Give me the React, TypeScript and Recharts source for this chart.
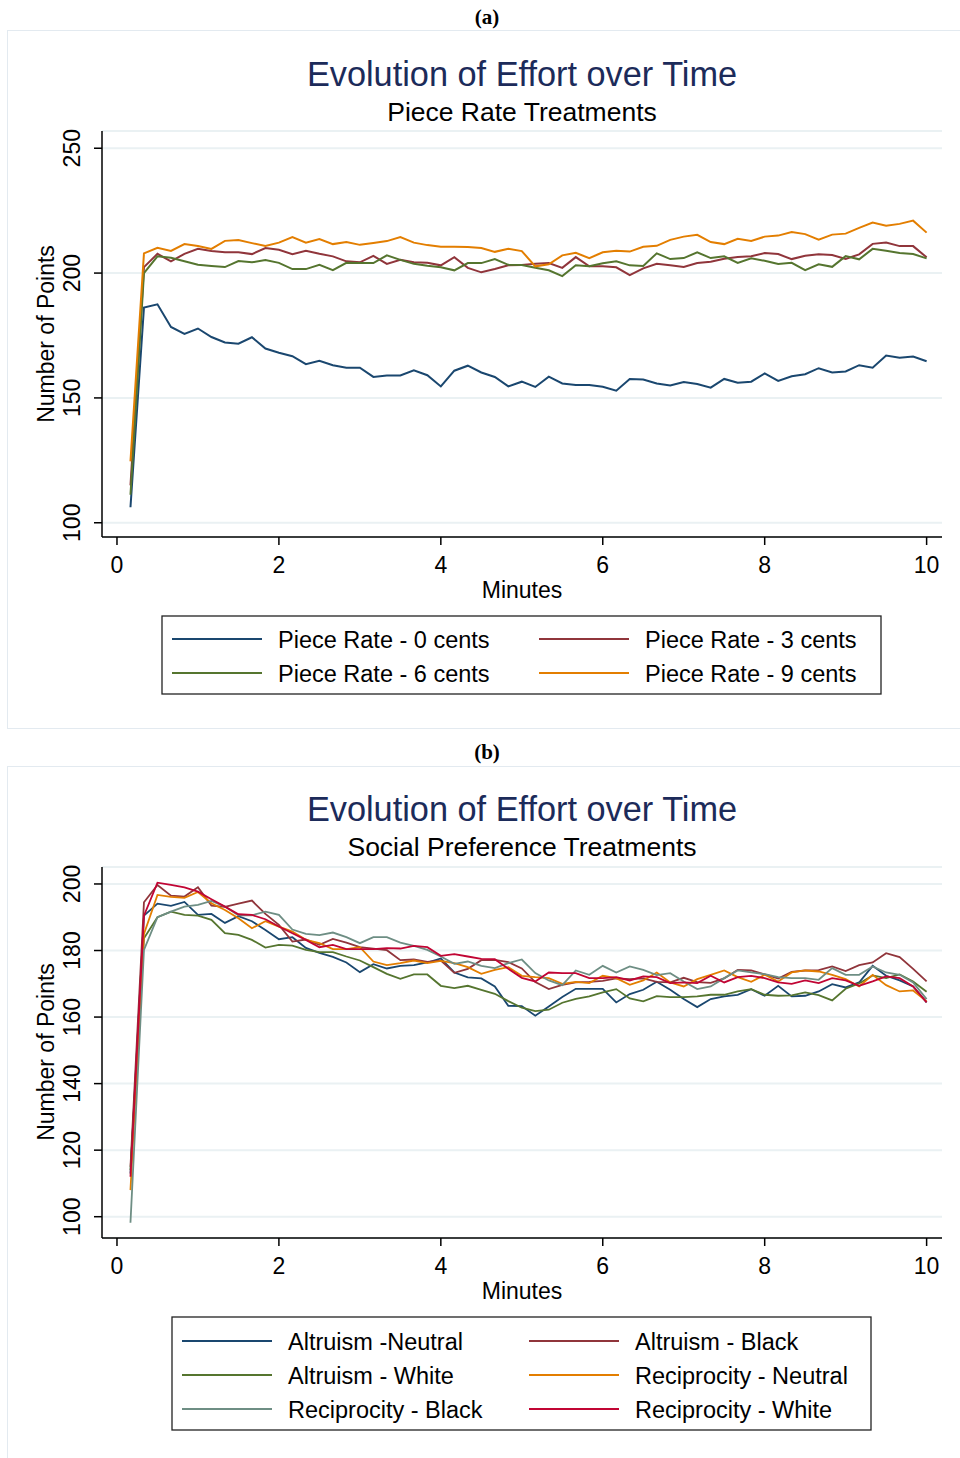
import { LineChart, Line, XAxis, YAxis, CartesianGrid } from "recharts";

// time stamps: one observation every 10 seconds over the 10 minute task
const SECONDS = [
  10, 20, 30, 40, 50, 60, 70, 80, 90, 100,
  110, 120, 130, 140, 150, 160, 170, 180, 190, 200,
  210, 220, 230, 240, 250, 260, 270, 280, 290, 300,
  310, 320, 330, 340, 350, 360, 370, 380, 390, 400,
  410, 420, 430, 440, 450, 460, 470, 480, 490, 500,
  510, 520, 530, 540, 550, 560, 570, 580, 590, 600,
];
const MINUTES = SECONDS.map((s) => s / 60);
const X_TICKS = [0, 2, 4, 6, 8, 10];

// (a) piece rate treatments
const PIECE_0 = [
  106.2, 186.2, 187.5, 178.4, 175.6, 177.8, 174.4, 172.2, 171.7, 174.3,
  169.8, 168.1, 166.7, 163.5, 164.9, 163.1, 162.1, 162.1, 158.4, 159.0,
  159.0, 161.1, 159.1, 154.6, 160.9, 162.9, 160.2, 158.4, 154.6, 156.5,
  154.4, 158.5, 155.8, 155.2, 155.2, 154.5, 152.9, 157.6, 157.4, 155.8,
  155.0, 156.4, 155.6, 154.1, 157.6, 156.1, 156.5, 159.8, 156.8, 158.7,
  159.5, 161.9, 160.2, 160.6, 163.1, 162.1, 167.0, 166.1, 166.6, 164.7,
];
const PIECE_3 = [
  115.0, 202.4, 207.7, 204.7, 207.7, 209.7, 208.8, 208.3, 208.3, 207.6,
  210.0, 209.3, 207.6, 208.9, 207.7, 206.7, 204.7, 204.3, 206.9, 203.7,
  205.3, 204.3, 204.1, 203.1, 206.4, 202.1, 200.3, 201.6, 203.1, 203.2,
  203.7, 204.0, 202.1, 206.4, 202.7, 202.7, 202.3, 199.2, 201.9, 203.7,
  203.1, 202.4, 204.0, 204.5, 205.7, 206.4, 206.7, 208.0, 207.6, 205.6,
  206.9, 207.5, 207.2, 205.7, 207.5, 211.7, 212.2, 210.8, 210.8, 206.3,
];
const PIECE_6 = [
  111.2, 200.0, 206.7, 206.1, 204.7, 203.3, 202.8, 202.4, 204.8, 204.3,
  205.2, 204.1, 201.6, 201.6, 203.3, 201.2, 204.1, 204.0, 204.0, 207.1,
  205.3, 203.7, 202.9, 202.3, 201.1, 204.0, 204.0, 205.6, 203.3, 203.2,
  202.1, 201.1, 198.8, 203.1, 202.7, 203.9, 204.7, 203.1, 202.8, 207.9,
  205.6, 206.0, 208.3, 206.0, 206.7, 204.1, 205.9, 204.9, 203.6, 204.1,
  201.2, 203.5, 202.5, 206.8, 205.5, 209.7, 208.9, 208.0, 207.6, 205.9,
];
const PIECE_9 = [
  124.6, 207.9, 210.1, 208.9, 211.6, 210.8, 209.7, 212.9, 213.2, 212.0,
  210.9, 212.2, 214.4, 212.2, 213.6, 211.6, 212.4, 211.3, 212.0, 212.8,
  214.4, 212.2, 211.2, 210.5, 210.5, 210.4, 210.0, 208.5, 209.7, 208.8,
  202.7, 203.5, 207.1, 208.1, 206.0, 208.3, 208.9, 208.6, 210.5, 210.9,
  213.3, 214.6, 215.3, 212.4, 211.6, 213.7, 212.9, 214.6, 215.0, 216.4,
  215.6, 213.4, 215.4, 215.8, 218.1, 220.2, 219.0, 219.7, 221.0, 216.2,
];
const PIECE_Y_TICKS = [100, 150, 200, 250];

// (b) social preference treatments
const ALT_NEUTRAL = [
  113.0, 190.5, 194.1, 193.4, 194.6, 190.7, 191.0, 188.3, 190.3, 188.8,
  186.2, 183.4, 184.0, 180.8, 179.3, 178.1, 176.4, 173.5, 175.9, 174.6,
  175.4, 175.6, 176.4, 177.6, 173.4, 171.9, 171.6, 169.2, 163.4, 163.3,
  160.4, 163.2, 166.0, 168.5, 168.5, 168.5, 164.4, 166.9, 168.2, 170.6,
  168.2, 165.4, 163.0, 165.4, 166.2, 166.7, 168.4, 166.4, 169.4, 166.2,
  166.4, 167.7, 169.9, 168.9, 170.4, 175.4, 172.4, 171.0, 169.2, 164.4,
];
const ALT_BLACK = [
  115.0, 194.5, 199.7, 196.5, 196.2, 199.0, 193.5, 193.1, 194.1, 195.0,
  191.0, 187.7, 182.7, 183.3, 181.7, 183.5, 182.4, 181.0, 180.6, 180.1,
  177.1, 177.3, 176.6, 177.0, 173.3, 174.5, 177.1, 177.2, 176.5, 174.6,
  170.5, 168.4, 169.7, 170.4, 170.6, 170.9, 171.6, 171.4, 171.6, 170.6,
  170.4, 171.8, 170.5, 170.3, 171.6, 174.2, 174.0, 172.8, 171.6, 173.6,
  174.0, 174.1, 175.2, 173.8, 175.6, 176.4, 179.2, 178.0, 174.5, 170.7,
];
const ALT_WHITE = [
  114.0, 183.7, 190.0, 191.7, 190.7, 190.5, 189.2, 185.2, 184.7, 183.2,
  180.9, 181.7, 181.5, 180.2, 179.5, 179.5, 178.2, 177.0, 175.0, 173.0,
  171.5, 172.8, 172.8, 169.4, 168.7, 169.4, 168.2, 167.0, 164.8, 162.8,
  161.8, 162.2, 164.3, 165.5, 166.2, 167.4, 168.4, 165.6, 164.7, 166.3,
  166.0, 166.0, 166.2, 166.7, 166.7, 167.7, 168.4, 166.7, 166.4, 166.5,
  167.4, 166.6, 165.0, 168.5, 170.1, 172.5, 171.7, 172.8, 170.7, 167.6,
];
const REC_NEUTRAL = [
  108.0, 185.0, 196.7, 196.1, 195.8, 197.6, 194.2, 192.2, 189.7, 186.7,
  188.8, 187.2, 185.7, 183.2, 182.2, 180.4, 180.4, 181.0, 176.7, 175.6,
  176.2, 177.0, 176.2, 176.9, 176.2, 175.0, 173.0, 174.2, 175.0, 172.4,
  172.0, 171.7, 170.0, 170.6, 170.2, 172.4, 171.7, 169.7, 171.0, 173.4,
  170.4, 169.2, 171.4, 172.7, 174.0, 172.0, 170.6, 172.7, 170.7, 173.4,
  174.0, 173.7, 172.7, 171.4, 169.2, 172.7, 169.6, 167.7, 168.0, 164.7,
];
const REC_BLACK = [
  98.2, 180.2, 190.0, 191.7, 193.2, 193.7, 194.9, 193.2, 190.6, 190.6,
  191.7, 190.7, 186.3, 185.0, 184.6, 185.4, 184.0, 182.2, 184.0, 184.0,
  182.4, 181.4, 180.2, 178.2, 176.0, 176.7, 175.4, 174.7, 176.2, 177.3,
  173.2, 171.0, 169.6, 174.0, 172.7, 175.4, 173.4, 175.2, 174.2, 172.6,
  173.2, 170.7, 168.4, 169.2, 171.7, 174.0, 173.4, 172.9, 172.0, 171.7,
  171.7, 171.2, 174.7, 172.7, 172.7, 175.2, 173.4, 172.7, 170.4, 165.4,
];
const REC_WHITE = [
  112.0, 190.5, 200.4, 199.7, 199.0, 197.7, 195.4, 193.2, 190.9, 190.7,
  189.4, 187.2, 185.2, 183.2, 181.0, 181.7, 180.4, 180.4, 180.4, 180.7,
  180.6, 181.4, 181.0, 178.4, 178.9, 178.2, 177.5, 177.4, 174.5, 171.8,
  170.7, 173.4, 173.2, 173.2, 171.7, 171.7, 172.0, 171.0, 172.2, 172.0,
  170.2, 170.4, 170.2, 172.4, 170.4, 172.0, 172.4, 171.7, 170.4, 170.0,
  171.0, 170.2, 171.7, 171.0, 169.4, 170.7, 172.2, 171.7, 169.2, 164.4,
];
const SOCIAL_Y_TICKS = [100, 120, 140, 160, 180, 200];

// stata s2color palette
const NAVY = "#1A476F";
const MAROON = "#90353B";
const FOREST = "#55752F";
const DKORANGE = "#E37E00";
const TEAL = "#6E8E84";
const CRANBERRY = "#C10534";

type Series = { key: string; name: string; color: string; values: number[] };

const PIECE_SERIES: Series[] = [
  { key: "p0", name: "Piece Rate - 0 cents", color: NAVY, values: PIECE_0 },
  { key: "p3", name: "Piece Rate - 3 cents", color: MAROON, values: PIECE_3 },
  { key: "p6", name: "Piece Rate - 6 cents", color: FOREST, values: PIECE_6 },
  { key: "p9", name: "Piece Rate - 9 cents", color: DKORANGE, values: PIECE_9 },
];
const SOCIAL_SERIES: Series[] = [
  { key: "an", name: "Altruism -Neutral", color: NAVY, values: ALT_NEUTRAL },
  { key: "ab", name: "Altruism - Black", color: MAROON, values: ALT_BLACK },
  { key: "aw", name: "Altruism - White", color: FOREST, values: ALT_WHITE },
  { key: "rn", name: "Reciprocity - Neutral", color: DKORANGE, values: REC_NEUTRAL },
  { key: "rb", name: "Reciprocity - Black", color: TEAL, values: REC_BLACK },
  { key: "rw", name: "Reciprocity - White", color: CRANBERRY, values: REC_WHITE },
];

const SANS = '"Liberation Sans", Arial, sans-serif';
const SERIF = '"Liberation Serif", "Times New Roman", serif';
const TITLE_COLOR = "#1C2B5A";
const GRID = "#EAF1F3";

function toRows(series: Series[]) {
  return MINUTES.map((m, i) => {
    const row: Record<string, number> = { min: m };
    for (const s of series) row[s.key] = s.values[i];
    return row;
  });
}

// y tick labels are vertical in stata's default scheme
function RotatedTick(props: any) {
  const { x, y, payload } = props;
  return (
    <text
      x={x}
      y={y}
      transform={`rotate(-90 ${x} ${y})`}
      textAnchor="middle"
      fontSize={23}
      fontFamily={SANS}
      fill="#000"
    >
      {payload.value}
    </text>
  );
}

type PanelProps = {
  series: Series[];
  top: number;
  height: number;
  marginTop: number;
  marginBottom: number;
  yDomain: [number, number];
  yTicks: number[];
  strokeWidth: number;
};

function Panel({ series, top, height, marginTop, marginBottom, yDomain, yTicks, strokeWidth }: PanelProps) {
  const rows = toRows(series);
  return (
    <div style={{ position: "absolute", left: 0, top, width: 960, height }}>
      <LineChart
        width={960}
        height={height}
        data={rows}
        margin={{ top: marginTop, right: 18, bottom: marginBottom, left: 42 }}
      >
        <CartesianGrid vertical={false} stroke={GRID} strokeWidth={2} />
        <XAxis
          dataKey="min"
          type="number"
          domain={[-0.185, 10.19]}
          ticks={X_TICKS}
          allowDataOverflow
          height={40}
          tickSize={8}
          tickMargin={12}
          axisLine={{ stroke: "#000", strokeWidth: 1.5 }}
          tickLine={{ stroke: "#000", strokeWidth: 1.5 }}
          tick={{ fontSize: 23, fill: "#000", fontFamily: SANS }}
        />
        <YAxis
          type="number"
          domain={yDomain}
          ticks={yTicks}
          allowDataOverflow
          width={60}
          tickSize={8}
          tickMargin={14}
          axisLine={{ stroke: "#000", strokeWidth: 1.5 }}
          tickLine={{ stroke: "#000", strokeWidth: 1.5 }}
          tick={<RotatedTick />}
        />
        {series.map((s) => (
          <Line
            key={s.key}
            type="linear"
            dataKey={s.key}
            name={s.name}
            stroke={s.color}
            strokeWidth={strokeWidth}
            dot={false}
            activeDot={false}
            isAnimationActive={false}
          />
        ))}
      </LineChart>
    </div>
  );
}

type LegendBoxProps = {
  series: Series[];
  x: number;
  y: number;
  w: number;
  h: number;
  firstRow: number;
  rowGap: number;
  col2: number;
};

function LegendBox({ series, x, y, w, h, firstRow, rowGap, col2 }: LegendBoxProps) {
  return (
    <g>
      <rect x={x} y={y} width={w} height={h} fill="#fff" stroke="#222" strokeWidth={1.3} />
      {series.map((s, i) => {
        const cx = x + 10 + (i % 2) * col2;
        const cy = firstRow + Math.floor(i / 2) * rowGap;
        return (
          <g key={s.key}>
            <line x1={cx} x2={cx + 90} y1={cy} y2={cy} stroke={s.color} strokeWidth={2} />
            <text x={cx + 106} y={cy + 8.5} fontSize={23.5} fontFamily={SANS} fill="#000">
              {s.name}
            </text>
          </g>
        );
      })}
    </g>
  );
}

function Decorations() {
  return (
    <svg
      width={960}
      height={1458}
      style={{ position: "absolute", left: 0, top: 0, pointerEvents: "none" }}
    >
      {/* panel (a) */}
      <text x={487} y={24} textAnchor="middle" fontSize={21} fontWeight="bold" fontFamily={SERIF}>
        (a)
      </text>
      <text x={522} y={86} textAnchor="middle" fontSize={34.3} fontFamily={SANS} fill={TITLE_COLOR}>
        Evolution of Effort over Time
      </text>
      <text x={522} y={121} textAnchor="middle" fontSize={26.5} fontFamily={SANS} fill="#000">
        Piece Rate Treatments
      </text>
      <text x={522} y={598} textAnchor="middle" fontSize={23} fontFamily={SANS} fill="#000">
        Minutes
      </text>
      <text
        x={54}
        y={334}
        transform="rotate(-90 54 334)"
        textAnchor="middle"
        fontSize={23}
        fontFamily={SANS}
        fill="#000"
      >
        Number of Points
      </text>
      <LegendBox series={PIECE_SERIES} x={162} y={616} w={719} h={78} firstRow={639} rowGap={34} col2={367} />

      {/* panel (b) */}
      <text x={487} y={759} textAnchor="middle" fontSize={21} fontWeight="bold" fontFamily={SERIF}>
        (b)
      </text>
      <text x={522} y={821} textAnchor="middle" fontSize={34.3} fontFamily={SANS} fill={TITLE_COLOR}>
        Evolution of Effort over Time
      </text>
      <text x={522} y={856} textAnchor="middle" fontSize={26.5} fontFamily={SANS} fill="#000">
        Social Preference Treatments
      </text>
      <text x={522} y={1299} textAnchor="middle" fontSize={23} fontFamily={SANS} fill="#000">
        Minutes
      </text>
      <text
        x={54}
        y={1052}
        transform="rotate(-90 54 1052)"
        textAnchor="middle"
        fontSize={23}
        fontFamily={SANS}
        fill="#000"
      >
        Number of Points
      </text>
      <LegendBox series={SOCIAL_SERIES} x={172} y={1317} w={699} h={113} firstRow={1341} rowGap={34} col2={347} />
    </svg>
  );
}

export default function App() {
  return (
    <div
      style={{
        position: "absolute",
        left: 0,
        top: 0,
        width: 960,
        height: 1458,
        background: "#fff",
        overflow: "hidden",
        fontFamily: SANS,
      }}
    >
      {/* faint graph-region frames */}
      <div style={{ position: "absolute", left: 7, top: 30, width: 970, height: 697, border: "1px solid #E3EAF0" }} />
      <div style={{ position: "absolute", left: 7, top: 766, width: 970, height: 720, border: "1px solid #E3EAF0" }} />
      <Panel
        series={PIECE_SERIES}
        top={0}
        height={620}
        marginTop={131}
        marginBottom={43}
        yDomain={[94.3, 256.9]}
        yTicks={PIECE_Y_TICKS}
        strokeWidth={2}
      />
      <Panel
        series={SOCIAL_SERIES}
        top={740}
        height={560}
        marginTop={127}
        marginBottom={22}
        yDomain={[93.6, 205.1]}
        yTicks={SOCIAL_Y_TICKS}
        strokeWidth={1.8}
      />
      <Decorations />
    </div>
  );
}
